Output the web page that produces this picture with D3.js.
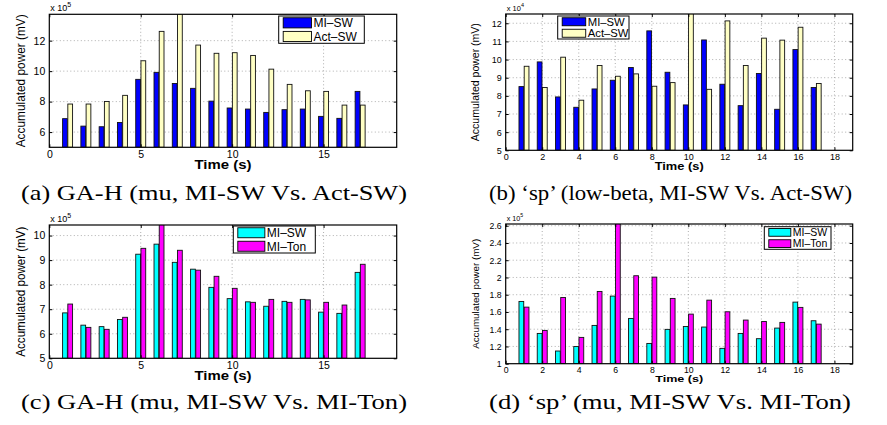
<!DOCTYPE html>
<html lang="en">
	<head>
		<meta charset="utf-8">
		<title>Accumulated power panels</title>
		<script type="text/javascript" src="https://cdn.jsdelivr.net/npm/d3@7"></script>
		<style type="text/css">
			body { margin: 0; background: white; }
			text { font-family: "Liberation Sans", Arial, sans-serif; }
			.caption { font-family: "Liberation Serif", "DejaVu Serif", serif; }
		</style>
	</head>
	<body>
		<script type="text/javascript">
			// Data
			var times = [1, 2, 3, 4, 5, 6, 7, 8, 9, 10, 11, 12, 13, 14, 15, 16, 17];

			// (a) GA-H, mu, x 10^5
			var aMiSw  = [6.88, 6.39, 6.35, 6.63, 9.46, 9.92, 9.19, 8.87, 8.03, 7.58, 7.51, 7.29, 7.47, 7.51, 7.03, 6.90, 8.67];
			var aActSw = [7.84, 7.84, 8.01, 8.41, 10.68, 12.61, 14.2, 11.71, 11.17, 11.21, 11.03, 10.13, 9.13, 8.71, 8.67, 7.77, 7.77];

			// (b) 'sp', low-beta, x 10^4
			var bMiSw  = [8.51, 9.87, 7.94, 7.37, 8.38, 8.86, 9.56, 11.58, 9.30, 7.50, 11.08, 8.64, 7.46, 9.23, 7.26, 10.55, 8.46];
			var bActSw = [9.63, 8.46, 10.13, 7.76, 9.67, 9.08, 9.21, 8.53, 8.73, 13.0, 8.36, 12.13, 9.67, 11.18, 11.07, 11.78, 8.68];

			// (c) GA-H, mu, x 10^5
			var cMiSw  = [6.85, 6.35, 6.29, 6.58, 9.24, 9.65, 8.91, 8.63, 7.89, 7.43, 7.30, 7.12, 7.32, 7.40, 6.88, 6.83, 8.50];
			var cMiTon = [7.21, 6.26, 6.18, 6.67, 9.48, 10.6, 9.40, 8.59, 8.34, 7.85, 7.28, 7.40, 7.28, 7.38, 7.28, 7.17, 8.83];

			// (d) 'sp', mu, x 10^5
			var dMiSw  = [1.722, 1.351, 1.147, 1.200, 1.444, 1.784, 1.525, 1.235, 1.398, 1.432, 1.425, 1.178, 1.351, 1.290, 1.413, 1.714, 1.498];
			var dMiTon = [1.656, 1.386, 1.768, 1.305, 1.838, 2.75, 2.020, 2.004, 1.757, 1.575, 1.737, 1.602, 1.506, 1.490, 1.479, 1.653, 1.459];

			// ticks
			var xTicksA = [0, 5, 10, 15];
			var xTicksB = [0, 2, 4, 6, 8, 10, 12, 14, 16, 18];
			var yTicksA = [6, 8, 10, 12];
			var yTicksB = [5, 6, 7, 8, 9, 10, 11, 12];
			var yTicksC = [5, 6, 7, 8, 9, 10];
			var yTicksD = [1, 1.2, 1.4, 1.6, 1.8, 2, 2.2, 2.4, 2.6];

			var captions = [
				"(a) GA-H (mu, MI-SW Vs. Act-SW)",
				"(b) \u2018sp\u2019 (low-beta, MI-SW Vs. Act-SW)",
				"(c) GA-H (mu, MI-SW Vs. MI-Ton)",
				"(d) \u2018sp\u2019 (mu, MI-SW Vs. MI-Ton)"
			];

			var w = 887, h = 425;
			var svg = d3.select("body").append("svg")
				.attr("width", w)
				.attr("height", h);

			var panels = [
				{ id: "a", box: [49.3, 14.3, 396.7, 147.3], yDom: [5, 13.73], xTicks: xTicksA, yTicks: yTicksA,
				  s1: aMiSw, s2: aActSw, names: ["MI\u2013SW", "Act\u2013SW"], colors: ["#0000ff", "#ffffc4"],
				  exp: "5", fs: 10.5, labFs: 12, ylabX: 24.5, ylabLen: 133, timeDy: 22, timeLen: 57,
				  leg: [278.7, 16, 364.3, 43.3], legFs: 12, cap: captions[0], capX: [21, 407], capY: 200 },
				{ id: "b", box: [505.7, 14, 852.7, 150.3], yDom: [5, 12.51], xTicks: xTicksB, yTicks: yTicksB,
				  s1: bMiSw, s2: bActSw, names: ["MI\u2013SW", "Act\u2013SW"], colors: ["#0000ff", "#ffffc4"],
				  exp: "4", fs: 9, labFs: 10.5, ylabX: 27, ylabLen: 118, timeDy: 20, timeLen: 49,
				  leg: [557.7, 16, 629, 39], legFs: 11.3, cap: captions[1], capX: [489, 852], capY: 200 },
				{ id: "c", box: [49.3, 225, 396.7, 358.3], yDom: [5, 10.43], xTicks: xTicksA, yTicks: yTicksC,
				  s1: cMiSw, s2: cMiTon, names: ["MI\u2013SW", "MI\u2013Ton"], colors: ["#00ffff", "#ff00ff"],
				  exp: "5", fs: 10.5, labFs: 12, ylabX: 24.5, ylabLen: 130, timeDy: 22, timeLen: 57,
				  leg: [233.3, 226, 315.3, 253], legFs: 12, cap: captions[2], capX: [21, 407], capY: 409 },
				{ id: "d", box: [505.7, 224, 852.7, 363.7], yDom: [1, 2.62], xTicks: xTicksB, yTicks: yTicksD,
				  s1: dMiSw, s2: dMiTon, names: ["MI\u2013SW", "MI\u2013Ton"], colors: ["#00ffff", "#ff00ff"],
				  exp: "5", fs: 8.7, labFs: 9.5, ylabX: 27, ylabLen: 110, timeDy: 18.5, timeLen: 48,
				  leg: [764.3, 226.7, 831, 249.3], legFs: 10.5, cap: captions[3], capX: [489, 851], capY: 409 }
			];

			var barW = 0.26, off = 0.143;

			panels.forEach(function(p) {
				var L = p.box[0], T = p.box[1], R = p.box[2], B = p.box[3];
				var x = d3.scaleLinear().domain([0, 19]).range([L, R]);
				var y = d3.scaleLinear().domain(p.yDom).range([B, T]);
				var g = svg.append("g");

				g.append("clipPath").attr("id", "clip-" + p.id)
					.append("rect").attr("x", L).attr("y", T).attr("width", R - L).attr("height", B - T);

				// dotted grid
				var grid = g.append("g")
					.attr("stroke", "#8c8c8c").attr("stroke-width", 0.7).attr("stroke-dasharray", "1,2.5");
				grid.selectAll("line.gy").data(p.yTicks.filter(function(d) { return d > p.yDom[0]; }))
					.enter().append("line")
					.attr("x1", L).attr("x2", R)
					.attr("y1", function(d) { return y(d); }).attr("y2", function(d) { return y(d); });
				grid.selectAll("line.gx").data(p.xTicks.filter(function(d) { return d > 0; }))
					.enter().append("line")
					.attr("y1", T).attr("y2", B)
					.attr("x1", function(d) { return x(d); }).attr("x2", function(d) { return x(d); });

				// bars
				var bars = g.append("g").attr("clip-path", "url(#clip-" + p.id + ")");
				var bw = x(barW) - x(0);
				[p.s1, p.s2].forEach(function(series, k) {
					bars.selectAll("rect.s" + k).data(series).enter().append("rect")
						.attr("x", function(d, i) { return x(times[i] + (k === 0 ? -off : off)) - bw / 2; })
						.attr("y", function(d) { return y(d); })
						.attr("width", bw)
						.attr("height", function(d) { return y(p.yDom[0]) - y(d); })
						.attr("fill", p.colors[k])
						.attr("stroke", "#111")
						.attr("stroke-width", 0.9);
				});

				// axes, ticks pointing inward; top/right carry no labels
				var tickStyle = function(sel, labels) {
					sel.select(".domain").remove();
					sel.selectAll(".tick line").attr("stroke", "#000");
					if (labels) {
						sel.selectAll(".tick text")
							.attr("font-family", "'Liberation Sans', Arial, sans-serif")
							.attr("font-size", p.fs)
							.attr("fill", "#000");
					} else {
						sel.selectAll(".tick text").remove();
					}
				};
				g.append("g").attr("transform", "translate(0," + B + ")")
					.call(d3.axisBottom(x).tickValues(p.xTicks).tickSizeInner(-3).tickSizeOuter(0).tickPadding(3.5).tickFormat(d3.format("")))
					.call(tickStyle, true);
				g.append("g").attr("transform", "translate(0," + T + ")")
					.call(d3.axisTop(x).tickValues(p.xTicks).tickSizeInner(-3).tickSizeOuter(0))
					.call(tickStyle, false);
				g.append("g").attr("transform", "translate(" + L + ",0)")
					.call(d3.axisLeft(y).tickValues(p.yTicks).tickSizeInner(-3).tickSizeOuter(0).tickPadding(4).tickFormat(d3.format("")))
					.call(tickStyle, true);
				g.append("g").attr("transform", "translate(" + R + ",0)")
					.call(d3.axisRight(y).tickValues(p.yTicks).tickSizeInner(-3).tickSizeOuter(0))
					.call(tickStyle, false);

				// frame
				g.append("rect").attr("x", L).attr("y", T).attr("width", R - L).attr("height", B - T)
					.attr("fill", "none").attr("stroke", "#000").attr("stroke-width", 1.2);

				// exponent
				var ex = g.append("text").attr("x", L + 1).attr("y", T - 3)
					.attr("font-size", p.fs - 1.5).text("x 10");
				ex.append("tspan").attr("dy", -4).attr("font-size", p.fs - 3.5).text(p.exp);

				// axis titles
				g.append("text")
					.attr("x", (L + R) / 2 - p.timeLen / 2).attr("y", B + p.timeDy)
					.attr("font-size", p.labFs).attr("font-weight", "bold")
					.attr("textLength", p.timeLen).attr("lengthAdjust", "spacingAndGlyphs")
					.text("Time (s)");
				g.append("text")
					.attr("transform", "translate(" + (L - p.ylabX) + "," + ((T + B) / 2 + p.ylabLen / 2) + ") rotate(-90)")
					.attr("font-size", p.labFs)
					.attr("textLength", p.ylabLen).attr("lengthAdjust", "spacingAndGlyphs")
					.text("Accumulated power (mV)");

				// legend
				var lg = g.append("g");
				var lx0 = p.leg[0], ly0 = p.leg[1], lx1 = p.leg[2], ly1 = p.leg[3];
				lg.append("rect").attr("x", lx0).attr("y", ly0).attr("width", lx1 - lx0).attr("height", ly1 - ly0)
					.attr("fill", "white").attr("stroke", "#000").attr("stroke-width", 1);
				var rowH = (ly1 - ly0) / 2;
				p.names.forEach(function(name, k) {
					var cy = ly0 + rowH * (k + 0.5);
					var sh = rowH - 3.5;
					var swW = (lx1 - lx0) * 0.33;
					lg.append("rect").attr("x", lx0 + 4.5).attr("y", cy - sh / 2).attr("width", swW).attr("height", sh)
						.attr("fill", p.colors[k]).attr("stroke", "#000").attr("stroke-width", 0.9);
					lg.append("text").attr("x", lx0 + 6.5 + swW).attr("y", cy).attr("dy", "0.36em")
						.attr("font-size", p.legFs).text(name);
				});

				// caption
				g.append("text").attr("class", "caption")
					.attr("x", p.capX[0]).attr("y", p.capY)
					.attr("font-size", 21)
					.attr("textLength", p.capX[1] - p.capX[0])
					.attr("lengthAdjust", "spacingAndGlyphs")
					.text(p.cap);
			});
		</script>
	</body>
</html>
